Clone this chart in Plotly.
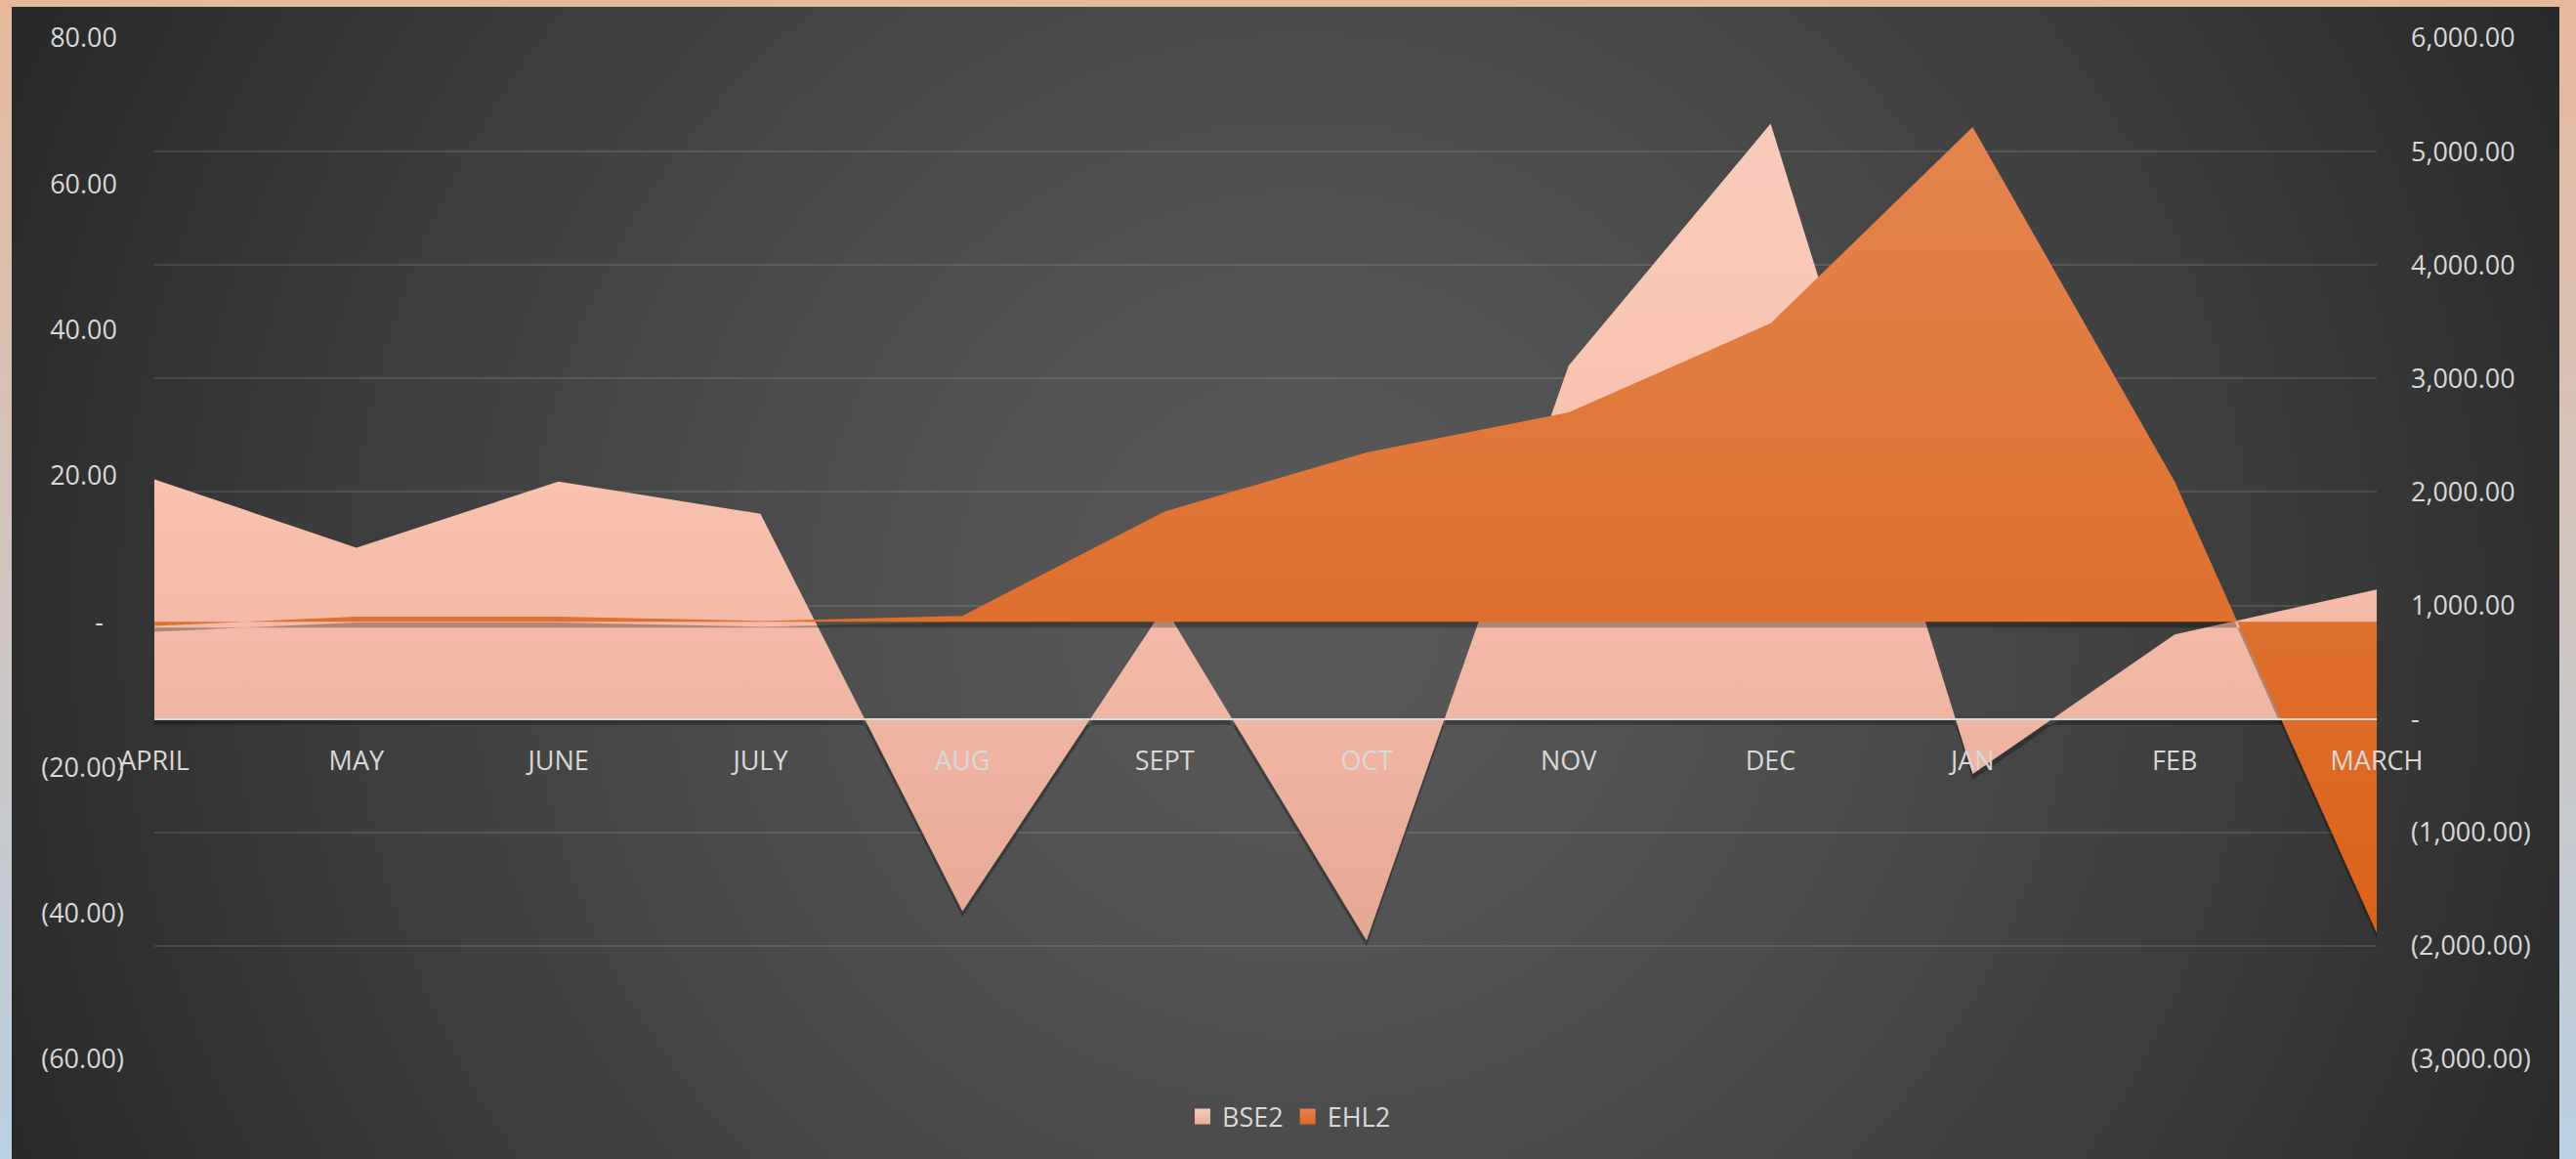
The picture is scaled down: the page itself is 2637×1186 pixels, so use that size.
import base64
import struct
import zlib

import numpy as np
import plotly.graph_objects as go

# ---------------- data ----------------
months = ["APRIL", "MAY", "JUNE", "JULY", "AUG", "SEPT", "OCT", "NOV", "DEC", "JAN", "FEB", "MARCH"]
bse2 = [2112, 1509, 2092, 1808, -1696, 985, -1954, 3112, 5246, -486, 744, 1140]      # right axis
ehl2 = [-0.6, 0.7, 0.7, 0.1, 0.8, 15.1, 23.2, 28.7, 40.9, 67.8, 19.2, -42.7]          # left axis

right_tickvals = [-3000, -2000, -1000, 0, 1000, 2000, 3000, 4000, 5000, 6000]
right_ticktext = ["(3,000.00)", "(2,000.00)", "(1,000.00)", "-", "1,000.00", "2,000.00",
                  "3,000.00", "4,000.00", "5,000.00", "6,000.00"]
left_tickvals = [-60, -40, -20, 0, 20, 40, 60, 80]
left_ticktext = ["(60.00)", "(40.00)", "(20.00)", "-\u00a0\u00a0\u00a0", "20.00\u00a0",
                 "40.00\u00a0", "60.00\u00a0", "80.00\u00a0"]

RIGHT_RANGE = [-3000, 6000]
LEFT_RANGE = [-60, 80]

# ---------------- geometry ----------------
W, H = 2637, 1186
ML, MR, MT, MB = 158, 204, 39, 102
PW, PH = W - ML - MR, H - MT - MB
SHADOW_PX = 6


def png_uri(arr):
    arr = np.ascontiguousarray(arr.astype(np.uint8))
    h, w, _ = arr.shape
    raw = b"".join(b"\x00" + arr[r].tobytes() for r in range(h))

    def chunk(t, d):
        c = struct.pack(">I", len(d)) + t + d
        return c + struct.pack(">I", zlib.crc32(t + d) & 0xFFFFFFFF)

    png = (b"\x89PNG\r\n\x1a\n"
           + chunk(b"IHDR", struct.pack(">IIBBBBB", w, h, 8, 2, 0, 0, 0))
           + chunk(b"IDAT", zlib.compress(raw, 9))
           + chunk(b"IEND", b""))
    return "data:image/png;base64," + base64.b64encode(png).decode()


# frame: vertical gradient peach -> light blue
n = 64
t = np.linspace(0, 1, n)[:, None]
top_c = np.array([231, 185, 156])
bot_c = np.array([186, 208, 227])
col = top_c * (1 - t) + bot_c * t
frame = np.repeat(col[:, None, :], 4, axis=1)
frame_uri = png_uri(frame)

# dark chart area: radial gradient
cx0, cy0, cx1, cy1 = 12, 7, 2620, 1186
aw, ah = cx1 - cx0, cy1 - cy0
sw, sh = aw // 4, ah // 4
yy, xx = np.mgrid[0:sh, 0:sw]
X = (xx + 0.5) * aw / sw
Y = (yy + 0.5) * ah / sh
ccx, ccy = 1320, 620
R = np.sqrt(max(ccx, aw - ccx) ** 2 + max(ccy, ah - ccy) ** 2)
tt = np.clip(np.sqrt((X - ccx) ** 2 + (Y - ccy) ** 2) / R, 0, 1)
f = 1 - tt ** 1.4
v = 40 + 49 * f
dark = np.stack([v, v, v], axis=-1)
dark_uri = png_uri(dark)


def px_x(p):
    return (p - ML) / PW


def px_y(p):
    return (H - MB - p) / PH


def shifted(rng, px):
    d = px * (rng[1] - rng[0]) / PH
    return [rng[0] + d, rng[1] + d]


FONT = "Open Sans"
TXT = "#D9D9D9"
SHADOW = "rgba(0,0,0,0.28)"

fig = go.Figure()

# pink shadow (main y, hidden)
fig.add_trace(go.Scatter(
    x=months, y=bse2, mode="none", fill="tozeroy", fillcolor=SHADOW,
    yaxis="y", showlegend=False, hoverinfo="skip"))
# BSE2 (right axis)
fig.add_trace(go.Scatter(
    x=months, y=bse2, name="BSE2", mode="none", fill="tozeroy",
    fillgradient=dict(type="vertical",
                      colorscale=[[0, "#E5A894"], [0.27, "#EFB5A3"],
                                  [0.565, "#F8C2AE"], [1, "#F9CBBB"]]),
    yaxis="y2", showlegend=False, hoverinfo="skip"))
# orange shadow (hidden)
fig.add_trace(go.Scatter(
    x=months, y=ehl2, mode="none", fill="tozeroy", fillcolor=SHADOW,
    yaxis="y3", showlegend=False, hoverinfo="skip"))
# EHL2 (left axis)
fig.add_trace(go.Scatter(
    x=months, y=ehl2, name="EHL2", mode="none", fill="tozeroy",
    fillgradient=dict(type="vertical", colorscale=[[0, "#DC6219"], [1, "#E3854F"]]),
    yaxis="y4", showlegend=False, hoverinfo="skip"))

# legend entries
fig.add_trace(go.Scatter(
    x=[None], y=[None], name="BSE2", mode="markers", yaxis="y2",
    marker=dict(symbol="square", size=19, color="#F9CDBF",
                gradient=dict(type="vertical", color="#E8AC98"))))
fig.add_trace(go.Scatter(
    x=[None], y=[None], name="EHL2", mode="markers", yaxis="y4",
    marker=dict(symbol="square", size=19, color="#E38250",
                gradient=dict(type="vertical", color="#E06A1E"))))

tickfont = dict(family=FONT, size=27, color=TXT)

fig.update_layout(
    width=W, height=H,
    margin=dict(l=ML, r=MR, t=MT, b=MB, pad=0),
    paper_bgcolor="#D8C4B8",
    plot_bgcolor="rgba(0,0,0,0)",
    font=dict(family=FONT, color=TXT, size=27),
    showlegend=True,
    legend=dict(orientation="h", x=px_x(1320), xanchor="center", y=px_y(1143),
                yanchor="middle", font=dict(family=FONT, size=27, color=TXT),
                bgcolor="rgba(0,0,0,0)", itemsizing="trace"),
    xaxis=dict(type="category", range=[0, 11], anchor="free", position=1 / 3,
               showline=True, linecolor="#D9D9D9", linewidth=2, showgrid=False,
               zeroline=False, ticks="", ticklabelstandoff=19, tickfont=tickfont),
    yaxis=dict(range=shifted(RIGHT_RANGE, SHADOW_PX), visible=False, showgrid=False,
               zeroline=False),
    yaxis2=dict(side="right", overlaying="y", range=RIGHT_RANGE, tickvals=right_tickvals,
                ticktext=right_ticktext, showgrid=True,
                gridcolor="rgba(255,255,255,0.11)", gridwidth=2, zeroline=False,
                showline=False, ticks="", ticklabelstandoff=34, tickfont=tickfont),
    yaxis3=dict(overlaying="y", range=shifted(LEFT_RANGE, SHADOW_PX), visible=False,
                showgrid=False, zeroline=False),
    yaxis4=dict(side="left", overlaying="y", range=LEFT_RANGE, tickvals=left_tickvals,
                ticktext=left_ticktext, showgrid=False, zeroline=False, showline=False,
                ticks="", ticklabelstandoff=30, tickfont=tickfont),
    images=[
        dict(source=frame_uri, xref="paper", yref="paper", x=px_x(0), y=px_y(0),
             sizex=W / PW, sizey=H / PH, xanchor="left", yanchor="top",
             sizing="stretch", layer="below"),
        dict(source=dark_uri, xref="paper", yref="paper", x=px_x(cx0), y=px_y(cy0),
             sizex=aw / PW, sizey=ah / PH, xanchor="left", yanchor="top",
             sizing="stretch", layer="below"),
    ],
)

fig.write_html(
    "out.html",
    config={"displayModeBar": False},
    post_script="document.body.style.margin='0px';document.body.style.overflow='hidden';",
)
